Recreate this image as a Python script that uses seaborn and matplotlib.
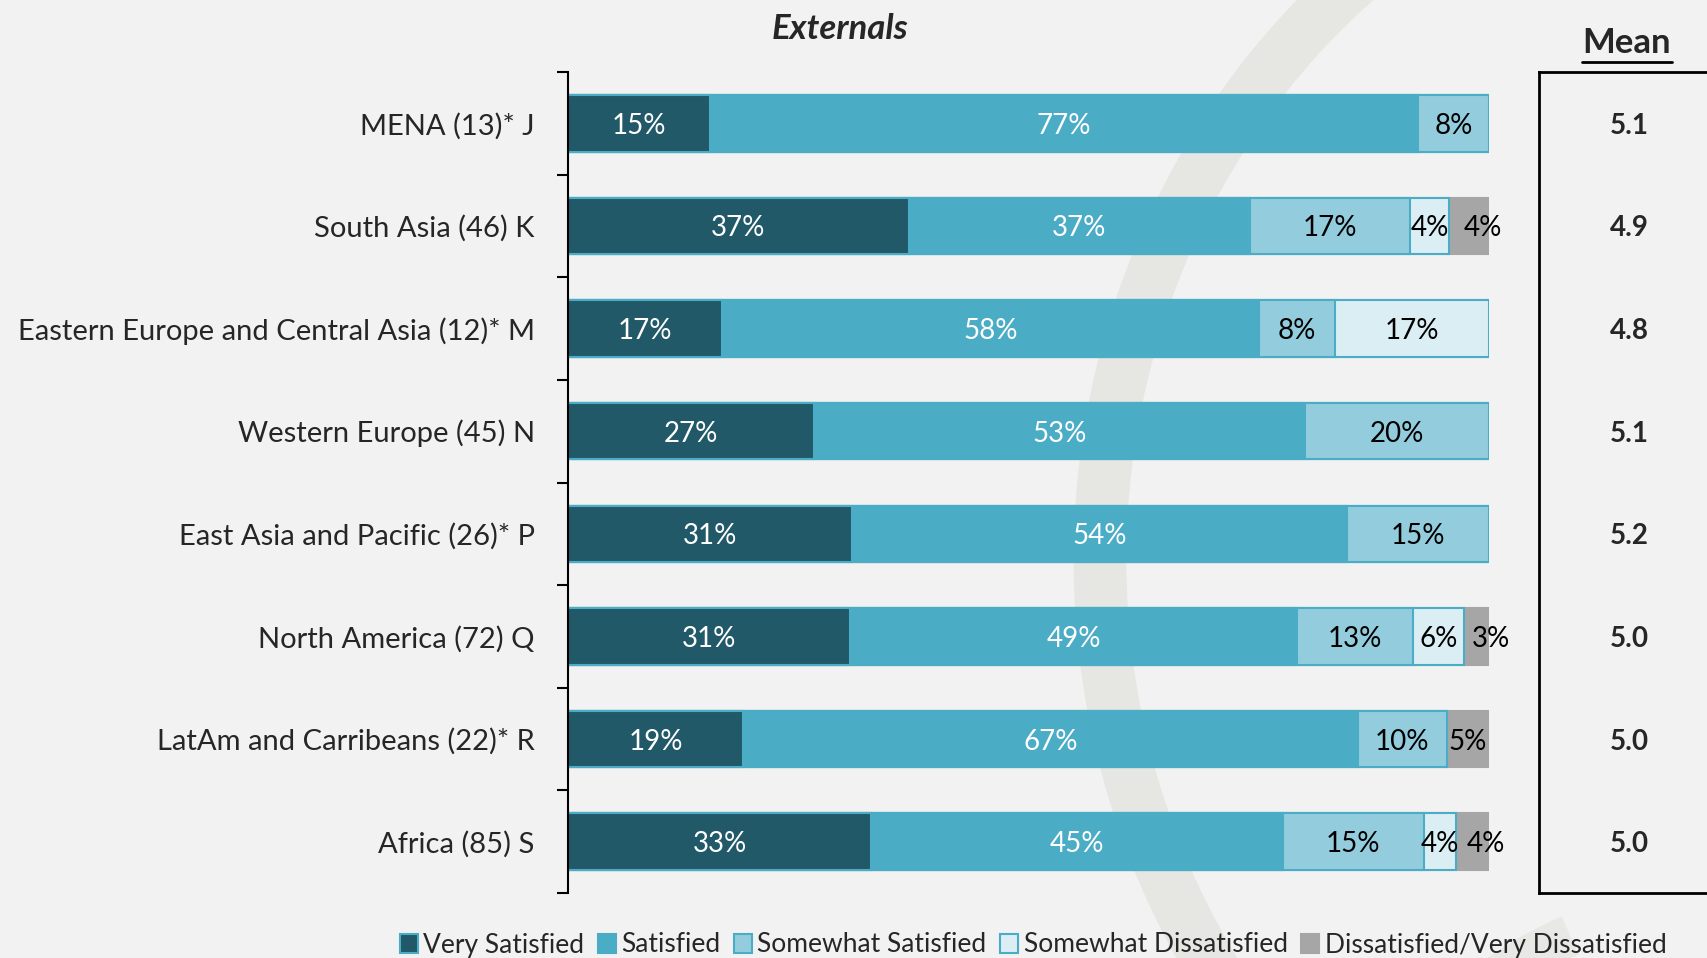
import numpy as np
import pandas as pd
import matplotlib.pyplot as plt
import seaborn as sns
from matplotlib.patches import Patch, Arc
from matplotlib.lines import Line2D

# Data
regions = ["MENA (13)* J", "South Asia (46) K", "Eastern Europe and Central Asia (12)* M",
           "Western Europe (45) N", "East Asia and Pacific (26)* P", "North America (72) Q",
           "LatAm and Carribeans (22)* R", "Africa (85) S"]
levels = ["Very Satisfied", "Satisfied", "Somewhat Satisfied",
          "Somewhat Dissatisfied", "Dissatisfied/Very Dissatisfied"]
very_satisfied = [15.4, 37.0, 16.7, 26.7, 30.8, 30.6, 19.0, 32.9]
satisfied = [76.9, 37.0, 58.3, 53.3, 53.8, 48.6, 66.8, 44.7]
somewhat_satisfied = [7.7, 17.4, 8.3, 20.0, 15.4, 12.5, 9.6, 15.3]
somewhat_dissatisfied = [0, 4.3, 16.7, 0, 0, 5.6, 0, 3.5]
dissatisfied = [0, 4.3, 0, 0, 0, 2.8, 4.6, 3.5]
means = [5.1, 4.9, 4.8, 5.1, 5.2, 5.0, 5.0, 5.0]

colors = ["#215968", "#4BACC6", "#93CDDD", "#DAEEF3", "#A6A6A6"]
edges = ["#4BACC6", "#4BACC6", "#4BACC6", "#4BACC6", "#A6A6A6"]
text_colors = ["white", "white", "black", "black", "black"]

df = pd.DataFrame({"Region": regions, levels[0]: very_satisfied, levels[1]: satisfied,
                   levels[2]: somewhat_satisfied, levels[3]: somewhat_dissatisfied,
                   levels[4]: dissatisfied})
cum = df[levels].cumsum(axis=1)

sns.set_style("white")
plt.rcParams["font.family"] = ["Lato", "DejaVu Sans"]
bg = "#F2F2F2"

fig = plt.figure(figsize=(17.07, 9.58), dpi=100, facecolor=bg)

# faint watermark arcs
wm = fig.add_axes([0, 0, 1, 1], zorder=-5)
wm.set_xlim(0, 1707)
wm.set_ylim(958, 0)
wm.axis("off")
wm.add_patch(Arc((1800, 560), 1400, 1500, theta1=90, theta2=270, color="#E6E6E2", lw=38))
wm.add_patch(Arc((1950, 1250), 1500, 1100, theta1=120, theta2=200, color="#E6E6E2", lw=38))
wm.add_patch(Arc((1750, 1150), 700, 500, theta1=150, theta2=230, color="#E8E8E4", lw=30))

ax = fig.add_axes([568 / 1707, 1 - 893 / 958, (1489 - 568) / 1707, (893 - 72) / 958])
ax.set_facecolor("none")

# stacked bars: draw cumulative totals from the outside in
for lvl, c, ec in reversed(list(zip(levels, colors, edges))):
    sns.barplot(x=cum[lvl], y=df["Region"], orient="y", color=c, edgecolor=ec,
                linewidth=1.5, saturation=1, width=0.55, ax=ax)

for i in range(len(regions)):
    for j, lvl in enumerate(levels):
        v = df[lvl].iloc[i]
        if v <= 0:
            continue
        xc = cum[lvl].iloc[i] - v / 2
        # small end labels get pushed right, like the original
        if j == len(levels) - 1 and v < 4.5:
            xc += 1.5
        ax.text(xc, i, f"{int(np.floor(v + 0.5))}%", ha="center", va="center_baseline",
                fontsize=20, color=text_colors[j])

ax.set_xlim(0, 100)
ax.set_ylim(len(regions) - 0.5, -0.5)
ax.set_xlabel("")
ax.set_ylabel("")
ax.set_xticks([])
for s in ["top", "right", "bottom"]:
    ax.spines[s].set_visible(False)
ax.spines["left"].set_linewidth(1.5)
ax.spines["left"].set_color("black")
ax.set_yticks(np.arange(-0.5, len(regions)), minor=True)
ax.tick_params(axis="y", which="minor", left=True, length=8, width=1.5, color="black",
               direction="out")
ax.tick_params(axis="y", which="major", length=0, pad=24, labelsize=21)

fig.text(840 / 1707, 1 - 29 / 958, "Externals", ha="center", va="center",
         fontsize=25, fontweight="bold", style="italic")

# mean column
mx = fig.add_axes([1539 / 1707, 1 - 893 / 958, 0.2, (893 - 72) / 958])
mx.set_facecolor("none")
mx.set_ylim(len(regions) - 0.5, -0.5)
mx.set_xlim(0, 1)
mx.set_xticks([])
mx.set_yticks([])
for s in ["top", "left", "bottom"]:
    mx.spines[s].set_linewidth(2)
    mx.spines[s].set_color("black")
mx.spines["right"].set_visible(False)
for i, m in enumerate(means):
    mx.text(90 / 341, i, f"{m:.1f}", ha="center", va="center_baseline", fontsize=20,
            fontweight="bold")

fig.text(1627 / 1707, 1 - 43 / 958, "Mean", ha="center", va="center", fontsize=25, fontweight="bold")
fig.add_artist(Line2D([1582 / 1707, 1672 / 1707], [1 - 62 / 958, 1 - 62 / 958],
                      color="black", lw=2))

handles = [Patch(facecolor=c, edgecolor=ec, linewidth=1.5) for c, ec in zip(colors, edges)]
fig.legend(handles, levels, loc="center", bbox_to_anchor=(1033 / 1707, 13 / 958), ncol=5,
           frameon=False, fontsize=19, handlelength=0.7, handleheight=0.7,
           handletextpad=0.2, columnspacing=0.5)

fig.savefig("out.png", dpi=100, facecolor=bg)
